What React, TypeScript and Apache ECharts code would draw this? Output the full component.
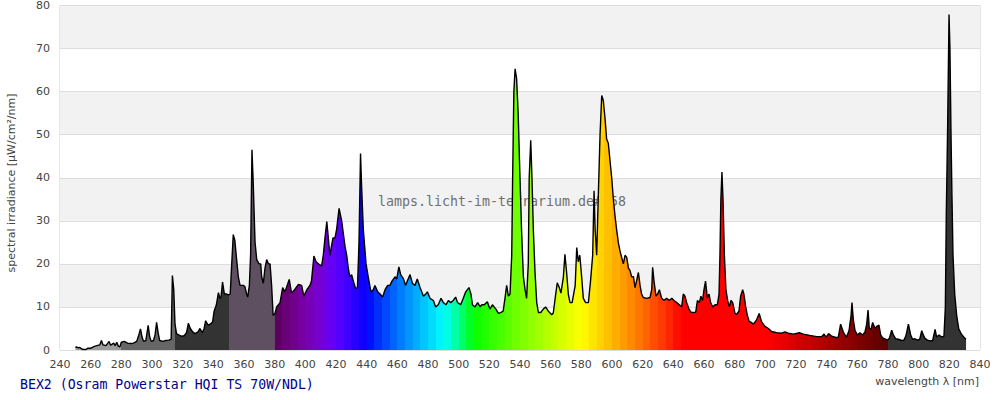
import React, { useEffect, useRef } from 'react';
import * as echarts from 'echarts';

// wavelength [nm]
const WAVELENGTHS = [
  250, 251, 252, 253, 254, 255, 257, 258, 260, 262, 264, 266, 267, 268, 270, 272, 273, 275, 276, 277, 278, 279,
  280, 282, 284, 286, 288, 290, 291, 292.5, 293.5, 294.5, 296, 297.5, 298.5, 299.5, 301, 302, 303, 304, 305, 307, 309, 311, 312.5, 313.3, 314.2,
  315, 316, 317, 319, 321, 322.5, 323.7, 325, 326.5, 328, 330, 331.3, 332.8, 334, 335, 336.5, 338, 339.5, 340.5, 342, 343.3, 344.3, 345, 346, 347.2, 348.7, 349.8,
  351, 352, 353, 354, 355.2, 356.3, 357.4, 359.6, 360.6, 361.7, 362.4, 363.5, 364.3, 365.2, 366, 367.2, 368.3, 369.8, 370.9, 371.5, 372.6, 373.7, 374.8, 375.9, 377, 378, 379,
  380.2, 381.3, 383.5, 385.2, 386.7, 389.5, 391, 393, 395.4, 397.6, 399, 401, 403, 404, 405.6, 407, 408.5, 410.6, 411.7, 412.8, 414, 415, 416, 418, 419.3, 420.4,
  422, 423.7, 424.8, 425.9, 427, 428, 429, 430.2, 431.3, 432.8, 434, 435, 436, 436.7, 437.8, 439.6, 441, 442.8, 444.3, 445.4, 447.2, 448.7, 450.4,
  452, 453.7, 455.2, 456.5, 458.5, 459.6, 461, 462.2, 464, 465.4, 466.5, 468.3, 469.8, 471.5, 473, 474.8, 475.9, 477, 478, 479.6, 481.3, 483.5, 485, 486.7, 488.5,
  490, 491.7, 493.3, 494.8, 496.5, 498, 499.3, 501.3, 503, 504.6, 506.7, 508, 509, 510.6, 512.4, 514, 515, 516.7, 518.7, 520.4, 522, 524.3, 525.9, 527.4, 529,
  530.2, 531.3, 532.4, 533.5, 534.6, 535.2, 536, 536.8, 537.8, 538.8, 540, 541, 542.2, 543.3, 544.3, 545.4, 546, 547, 547.8, 548.7, 549.8, 550.9, 552, 553.5,
  555.2, 556.7, 558.5, 560.7, 561.7, 563.3, 564.3, 565.6, 566.7, 568.3, 569.3, 570.4, 571.5, 572.6, 574, 576, 577, 578, 579, 580.2, 581.3, 582.8, 584.6,
  586, 587.4, 588.3, 589, 590, 591, 592.2, 593.3, 594.3, 595.4, 596.5, 597.6, 598.7, 599.8, 600.9, 602, 603, 604.1, 605.2, 606.3, 607.4, 608.5, 609.6,
  610.7, 611.7, 612.8, 614, 615, 616, 617.2, 618.3, 619.3, 620.4, 622.6, 624.8, 625.9, 626.5, 627.4, 628.7, 629.8, 630.9, 632.4, 633.9, 635.6, 637.4, 639,
  640.4, 642.2, 643.9, 645.4, 646.5, 647.6, 648.7, 650.2, 651.5, 653, 654.6, 655.7, 657, 658, 659.1, 660, 661, 662.2, 663.3, 664.3, 665.7, 667.2, 668.7,
  669.8, 670.4, 671, 671.7, 672.4, 673.3, 674.3, 675.4, 676.5, 677.6, 678.7, 680.2, 681.3, 682.8, 683.9, 685.2, 686, 687.2, 688.3, 689.6,
  690, 692.2, 694.3, 696, 697.6, 699.8, 702, 704.1, 707.4, 710.6, 712.8, 715, 718.3, 722.2, 724.8, 729, 733.5, 736.7, 738.3, 739.6, 741.3, 743.3, 746,
  747.6, 749.1, 751, 753, 754.6, 755.9, 756.5, 757.4, 758.5, 760, 761.7, 763.5, 765, 766.1, 767, 767.8, 768.9, 770, 771.5, 772.6, 774.1, 775.2, 776.5, 778, 779.6,
  780.9, 782.4, 783.5, 785, 786.7, 789, 790.4, 791.7, 793.3, 794.8, 796, 797.6, 799.1, 800.7, 802, 803, 804.1, 805.7, 807.4, 809.1, 810.7, 811.7, 813.3, 815,
  816.5, 817.4, 818, 818.9, 819.8, 820.4, 821.1, 821.7, 822.4, 823.5, 824.8, 826.1, 827.4, 828.7, 830.2, 830.9
];

// spectral irradiance [µW/cm²/nm]
const IRRADIANCE = [
  0.6, 0.7, 0.5, 0.6, 0.3, 0.1, 0.1, 0.4, 0.4, 0.8, 1.0, 1.2, 2.2, 1.2, 1.0, 2.0, 1.1, 1.6, 1.0, 1.8, 0.9, 0.7,
  1.8, 2.0, 1.6, 1.5, 1.6, 2.0, 3.0, 4.9, 3.0, 2.0, 2.2, 5.7, 3.0, 2.0, 2.2, 3.5, 6.4, 4.0, 2.2, 2.0, 2.2, 2.3, 2.5, 17.3, 14,
  6, 3.8, 3.6, 3.2, 3.3, 4.0, 6.2, 5.0, 4.2, 3.8, 4.2, 5.0, 4.0, 5.0, 6.8, 5.8, 6.0, 6.5, 9.0, 10.5, 13.3, 12.0, 12.3, 15.8, 13.0, 13.0, 12.8,
  13.0, 20.0, 26.8, 25.5, 21, 17, 15, 15, 14.7, 13, 12.3, 15, 22, 46.5, 39, 25, 21, 20, 20, 17, 15.5, 19, 21, 20, 20, 15, 8,
  8.5, 10, 11, 14.5, 13.5, 16.4, 13.2, 14.0, 15.2, 15.0, 12.5, 14.0, 15.0, 16.0, 21.8, 20.5, 20.0, 19.5, 22, 26, 29.8, 26, 22, 26, 26, 28,
  32.9, 30, 27, 24, 22, 19, 17, 17.5, 16, 14.3, 14.5, 25, 45.6, 38, 28, 20, 17, 13.5, 14, 15, 13.5, 13, 12.3,
  14, 15, 15, 16, 17, 16.5, 19.3, 17.5, 16.5, 15, 16, 17.5, 15.5, 15, 16.5, 14.5, 13.5, 12.5, 12.8, 13.5, 12, 11.5, 10, 10.5, 12,
  11, 10.5, 11.5, 11, 11.5, 12.3, 11, 10.5, 12, 13.5, 14.5, 13, 10.5, 10, 11, 10, 10.5, 10.5, 11.2, 9.5, 10.5, 9.5, 8.5, 8.7, 9.0,
  12, 15, 12.5, 13, 22, 40, 60, 65.3, 63, 55, 40, 28, 17, 14, 12, 20, 40, 48.7, 40, 28, 18, 11, 8.7, 8.7,
  9.5, 10, 9, 8.2, 8.6, 13, 15.6, 14.5, 13.2, 17, 22.2, 18, 13, 11, 11, 15, 23.8, 20.5, 22, 17, 12, 11, 11,
  16, 22, 37, 28, 22, 35, 50, 59.1, 58, 54, 49, 48, 44, 40, 35, 31, 28, 25, 23, 21.5, 20, 22, 21.5,
  19, 18.5, 17, 17, 14.5, 16, 18, 15, 13, 12.2, 12, 12.2, 14, 19.2, 16, 12.5, 13, 14, 12, 11.5, 12, 11.5, 12,
  11.5, 11, 10.5, 10, 13, 12.5, 11, 9.5, 8.8, 8.7, 8.8, 11.5, 11, 12.5, 11.5, 14, 16, 12, 13, 11, 10, 10.5, 10.5,
  13, 22, 35, 41.3, 35, 22, 14, 11.5, 10, 11.5, 11, 8.5, 8.3, 9, 12.5, 14, 13, 10, 8, 6.5,
  6.6, 6.0, 7, 8.5, 6.5, 5.5, 5.0, 4.3, 4.0, 3.9, 4.2, 3.9, 3.7, 4.0, 3.7, 3.4, 3.1, 3.1, 3.7, 3.0, 3.8, 3.2, 2.9,
  3.0, 6.0, 4.0, 3.0, 4.5, 8, 11.0, 7, 4.5, 3.5, 4, 3.5, 4.2, 6, 9.3, 5, 4.8, 6.4, 5, 5.5, 5.8, 3.5, 2.8, 2.6, 2.3,
  2.7, 4.6, 3.5, 2.6, 2.5, 2.2, 2.3, 3.3, 6.0, 3.5, 2.5, 2.6, 2.3, 2.5, 4.5, 3.5, 2.7, 2.3, 2.1, 2.2, 4.8, 3.0, 3.5, 3.0,
  3.2, 10, 31, 52, 77.9, 70, 50, 36, 22, 13, 8, 5, 4, 3.3, 2.7, 2.5
];

// non-visible bands [from nm, to nm]
const UV_BANDS = [
  [250, 280],
  [280, 315],
  [315, 350],
  [350, 380]
];
const UV_COLORS = ['#9c9c9c', '#666666', '#333333', '#5e5060'];
const IR_COLOR = '#333333';

const X_MIN = 240;
const X_MAX = 840;
const Y_MIN = 0;
const Y_MAX = 80;

const TITLE = 'BEX2 (Osram Powerstar HQI TS 70W/NDL)';
const WATERMARK = 'lamps.licht-im-terrarium.de#358';
const X_NAME = 'wavelength λ [nm]';
const Y_NAME = 'spectral irradiance [µW/cm²/nm]';

function spectralColor(w: number): string {
  let r = 0, g = 0, b = 0;
  if (w < 440) { r = (440 - w) / 60; b = 1; }
  else if (w < 490) { g = (w - 440) / 50; b = 1; }
  else if (w < 510) { g = 1; b = (510 - w) / 20; }
  else if (w < 580) { r = (w - 510) / 70; g = 1; }
  else if (w < 645) { r = 1; g = (645 - w) / 65; }
  else { r = 1; }
  let f = 1;
  if (w < 420) f = 0.3 + 0.7 * (w - 380) / 40;
  else if (w > 700) f = 0.3 + 0.7 * (780 - w) / 80;
  const c = (v: number) => Math.round(255 * Math.pow(v * f, 0.9));
  return `rgb(${c(r)},${c(g)},${c(b)})`;
}

export default function App() {
  const ref = useRef<HTMLDivElement>(null);
  useEffect(() => {
    if (!ref.current) return;
    const chart = echarts.init(ref.current, null, { renderer: 'svg' });

    const data = WAVELENGTHS.map((w, i) => [w, IRRADIANCE[i]]);
    const pieces: any[] = UV_BANDS.map((b, i) => ({ gte: b[0], lt: b[1], color: UV_COLORS[i] }));
    for (let w = 380; w < 780; w += 5) {
      pieces.push({ gte: w, lt: w + 5, color: spectralColor(w + 2.5) });
    }
    pieces.push({ gte: 780, lte: 900, color: IR_COLOR });

    const labelStyle = { color: '#444', fontSize: 11, fontFamily: 'DejaVu Sans' };

    chart.setOption({
      animation: false,
      backgroundColor: '#ffffff',
      grid: {
        left: 60, right: 20, top: 5, bottom: 50,
        show: true, borderColor: '#cccccc', borderWidth: 1, backgroundColor: 'transparent'
      },
      xAxis: {
        type: 'value', min: X_MIN, max: X_MAX, interval: 20,
        axisLine: { show: false }, axisTick: { show: false }, splitLine: { show: false },
        axisLabel: { ...labelStyle, margin: 9 }
      },
      yAxis: {
        type: 'value', min: Y_MIN, max: Y_MAX, interval: 10,
        axisLine: { show: false }, axisTick: { show: false },
        splitLine: { show: true, lineStyle: { color: '#dddddd', width: 1 } },
        splitArea: { show: true, areaStyle: { color: ['#ffffff', '#f2f2f2'] } },
        axisLabel: { ...labelStyle, margin: 10 }
      },
      visualMap: {
        type: 'piecewise', show: false, dimension: 0, seriesIndex: 0,
        pieces, outOfRange: { color: IR_COLOR }
      },
      series: [
        {
          type: 'line', data, symbol: 'none', silent: true, z: 3,
          lineStyle: { color: '#000000', width: 1.4 },
          areaStyle: { opacity: 1 }
        }
      ],
      graphic: [
        {
          type: 'text', x: 502, y: 201, z: 1,
          style: { text: WATERMARK, fill: '#707070', font: '13.3px "DejaVu Sans Mono"', textAlign: 'center', textVerticalAlign: 'middle' }
        },
        {
          type: 'text', x: 20, y: 384,
          style: { text: TITLE, fill: '#00008b', font: '13.2px "DejaVu Sans Mono"', textAlign: 'left', textVerticalAlign: 'middle' }
        },
        {
          type: 'text', x: 979, y: 381,
          style: { text: X_NAME, fill: '#444', font: '11px "DejaVu Sans"', textAlign: 'right', textVerticalAlign: 'middle' }
        },
        {
          type: 'text', x: 11, y: 183, rotation: Math.PI / 2,
          style: { text: Y_NAME, fill: '#444', font: '11px "DejaVu Sans"', textAlign: 'center', textVerticalAlign: 'middle' }
        }
      ]
    });
    return () => chart.dispose();
  }, []);
  return <div ref={ref} style={{ position: 'fixed', left: 0, top: 0, width: 1000, height: 400 }} />;
}
